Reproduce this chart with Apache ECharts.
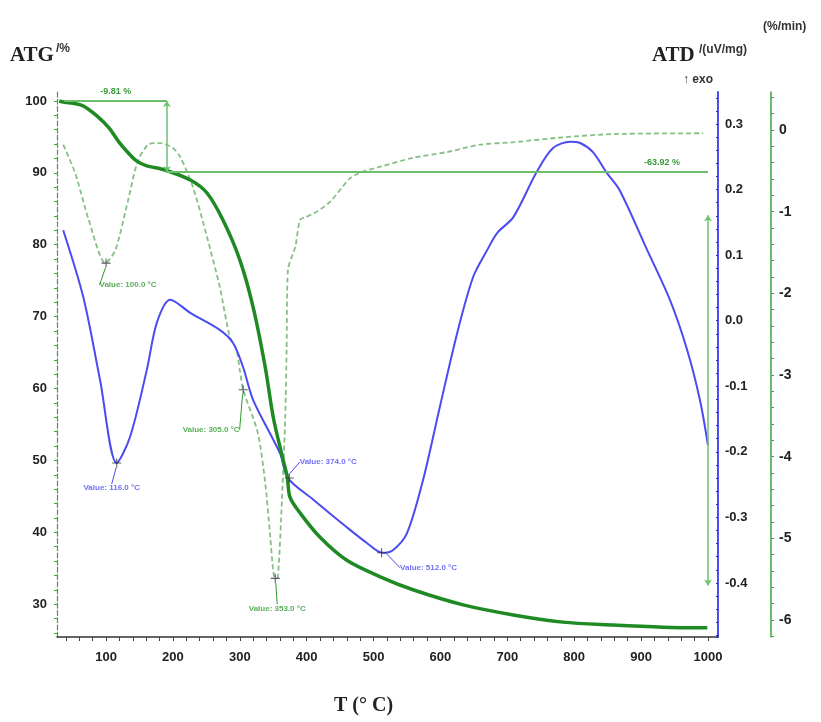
<!DOCTYPE html>
<html><head><meta charset="utf-8">
<script src="https://cdn.jsdelivr.net/npm/echarts@6/dist/echarts.min.js"></script>
<style>html,body{margin:0;padding:0;background:#fff}#c{width:821px;height:722px}</style>
</head><body><div id="c"></div>
<script>
// ---- data ----
const atgT = [30,34,64,88,105,120,133,145,160,188,226,251,275,300,320,338,350,365,371,375,390,420,460,510,559,634,709,783,858,933,999];
const atgV = [100,99.9,99.4,97.8,96.2,94.2,92.8,91.7,91.0,90.4,89.0,87.2,83.4,77.9,71.3,63.0,56.0,50.0,47.7,44.9,42.7,39.3,36.1,33.8,32.0,29.9,28.5,27.5,27.1,26.8,26.7];

const dtgT = [36,54,73,99,114,133,148,165,181,200,211,230,251,270,285,295,300,305,327,338,345,350,353,357,363,368,370,372,383,390,398,415,435,465,484,510,559,610,659,709,783,858,993];
const dtgV = [-0.18,-0.53,-1.07,-1.63,-1.47,-0.86,-0.37,-0.17,-0.16,-0.22,-0.33,-0.70,-1.31,-1.92,-2.53,-2.69,-2.94,-3.18,-3.71,-4.32,-4.93,-5.40,-5.49,-5.47,-4.53,-3.51,-2.69,-1.71,-1.43,-1.10,-1.07,-1.00,-0.88,-0.59,-0.51,-0.45,-0.34,-0.27,-0.18,-0.15,-0.09,-0.05,-0.04];

const atdT = [36,66,91,116,136,161,176,196,226,270,290,305,320,360,372,410,460,490,513,529,550,574,599,625,649,670,685,709,744,768,794,809,828,849,868,909,943,969,988,1000];
const atdV = [0.138,0.036,-0.090,-0.217,-0.177,-0.075,-0.003,0.032,0.012,-0.014,-0.034,-0.071,-0.121,-0.202,-0.240,-0.273,-0.315,-0.339,-0.354,-0.350,-0.324,-0.243,-0.132,-0.019,0.067,0.108,0.134,0.158,0.227,0.263,0.273,0.271,0.257,0.225,0.199,0.108,0.032,-0.045,-0.121,-0.190];

const dtgMarkT = [100,305,353];
const dtgMarkV = [-1.63,-3.18,-5.49];
const dtgMarkText = ['Value: 100.0 °C','Value: 305.0 °C','Value: 353.0 °C'];
const atdMarkT = [116,374,512];
const atdMarkV = [-0.217,-0.240,-0.354];
const atdMarkText = ['Value: 116.0 °C','Value: 374.0 °C','Value: 512.0 °C'];

// step annotations (ATG %)
const step1 = {t0:38, t1:191, top:100, bottom:90.1, text:'-9.81 %'};
const step2 = {t0:191, t1:1000, level:90.12, arrowTop:84.1, arrowBottom:32.6, text:'-63.92 %'};

const xLabels = [100,200,300,400,500,600,700,800,900,1000];
const atgLabels = [30,40,50,60,70,80,90,100];
const atdLabels = [0.3,0.2,0.1,0,-0.1,-0.2,-0.3,-0.4];
const dtgLabels = [0,-1,-2,-3,-4,-5,-6];

// ---- styling / layout ----
const dtgOffsets = [[22,22],[-32,40],[2,30]];
const atdOffsets = [[-5,25],[39,-16],[47,15]];
function range(a,b,s){const r=[];for(let v=a;v<=b+1e-9;v+=s)r.push(+v.toFixed(4));return r;}

const sans = "'Liberation Sans',Arial,sans-serif";
const serif = "'Liberation Serif','Times New Roman',serif";
const GREEN = '#1f8a24', LGREEN = '#6cc06c', DGREEN='#86c086', BLUE = '#4b4bf2';
const cross = 'path://M0,4.4h10v1.2h-10z M4.4,0h1.2v10h-1.2z';

const chart = echarts.init(document.getElementById('c'));
const zip = (a,b)=>a.map((v,i)=>[v,b[i]]);

chart.setOption({
  animation:false,
  backgroundColor:'#fff',
  grid:{left:57,right:103,top:92,bottom:85},
  xAxis:{type:'value',min:26.7,max:1015,
    axisLine:{onZero:false,lineStyle:{color:'#333',width:1.5}},
    axisTick:{customValues:range(40,1000,20),length:4,lineStyle:{color:'#444'}},
    axisLabel:{customValues:xLabels,formatter:v=>String(v),fontFamily:sans,fontWeight:'bold',fontSize:13,color:'#222',margin:14},
    splitLine:{show:false}},
  yAxis:[
    {type:'value',position:'left',min:25.43,max:101.25,
      axisLine:{show:true,onZero:false,lineStyle:{color:'#3aa53a',type:'dashed',width:1.2}},
      axisTick:{show:true,customValues:range(26,100,2),length:3,lineStyle:{color:'#3aa53a'}},
      axisLabel:{customValues:atgLabels,formatter:v=>String(v),fontFamily:sans,fontWeight:'bold',fontSize:13,color:'#222',margin:10},
      splitLine:{show:false}},
    {type:'value',position:'right',min:-0.4824,max:0.3488,
      axisLine:{show:true,onZero:false,lineStyle:{color:BLUE,width:2}},
      axisTick:{show:true,inside:true,customValues:range(-0.48,0.34,0.02),length:2,lineStyle:{color:'#2a2ad0'}},
      axisLabel:{customValues:atdLabels,formatter:v=>v.toFixed(1),fontFamily:sans,fontWeight:'bold',fontSize:13,color:'#222',margin:7},
      splitLine:{show:false}},
    {type:'value',position:'right',offset:53,min:-6.208,max:0.465,
      axisLine:{show:true,onZero:false,lineStyle:{color:'#3aa53a',width:1.5}},
      axisTick:{show:true,customValues:range(-6.2,0.4,0.2),length:3,lineStyle:{color:'#3aa53a'}},
      axisLabel:{customValues:dtgLabels,formatter:v=>String(v),fontFamily:sans,fontWeight:'bold',fontSize:14,color:'#222',margin:8},
      splitLine:{show:false}}
  ],
  series:[
    {name:'DTG',type:'line',yAxisIndex:2,data:zip(dtgT,dtgV),smooth:0.25,showSymbol:false,
      lineStyle:{color:DGREEN,width:1.8,type:[5,3]},z:2},
    {name:'ATG',type:'line',yAxisIndex:0,data:zip(atgT,atgV),smooth:0.3,showSymbol:false,
      lineStyle:{color:GREEN,width:3.5},z:4,
      markLine:{silent:true,symbol:['none','none'],animation:false,
        lineStyle:{color:LGREEN,width:2,type:'solid'},
        label:{color:'#3a9a3a',fontFamily:sans,fontWeight:'bold',fontSize:9},
        data:[
          [{coord:[step1.t0,step1.top],label:{show:true,position:'middle',formatter:step1.text,distance:5}},{coord:[step1.t1,step1.top]}],
          [{coord:[step1.t1,step1.top],symbol:'arrow',symbolSize:6,label:{show:false},lineStyle:{width:1.5}},{coord:[step1.t1,step1.bottom],symbol:'arrow',symbolSize:6}],
          [{coord:[step2.t0,step2.level],label:{show:true,position:'insideEndTop',formatter:step2.text,distance:[28,5]}},{coord:[step2.t1,step2.level]}],
          [{coord:[step2.t1,step2.arrowTop],symbol:'arrow',symbolSize:6,label:{show:false},lineStyle:{width:1.5}},{coord:[step2.t1,step2.arrowBottom],symbol:'arrow',symbolSize:6}]
        ]}},
    {name:'ATD',type:'line',yAxisIndex:1,data:zip(atdT,atdV),smooth:0.3,showSymbol:false,
      lineStyle:{color:BLUE,width:2},z:3},
    {name:'DTG marks',type:'scatter',yAxisIndex:2,data:zip(dtgMarkT,dtgMarkV),symbol:cross,symbolSize:9,
      itemStyle:{color:'#333'},z:6,
      label:{show:true,position:'inside',formatter:p=>dtgMarkText[p.dataIndex],color:'#2f9a2f',fontFamily:sans,fontWeight:'bold',fontSize:8},
      labelLine:{show:true,lineStyle:{color:'#2f9a2f',width:1}},
      labelLayout:p=>({dx:dtgOffsets[p.dataIndex][0],dy:dtgOffsets[p.dataIndex][1]})},
    {name:'ATD marks',type:'scatter',yAxisIndex:1,data:zip(atdMarkT,atdMarkV),symbol:cross,symbolSize:9,
      itemStyle:{color:'#333'},z:6,
      label:{show:true,position:'inside',formatter:p=>atdMarkText[p.dataIndex],color:BLUE,fontFamily:sans,fontWeight:'bold',fontSize:8},
      labelLine:{show:true,lineStyle:{color:BLUE,width:1}},
      labelLayout:p=>({dx:atdOffsets[p.dataIndex][0],dy:atdOffsets[p.dataIndex][1]})}
  ],
  graphic:[
    {type:'text',left:10,top:45,style:{text:'ATG',font:'bold 21px '+serif,fill:'#222'}},
    {type:'text',left:56,top:43,style:{text:'/%',font:'bold 12px '+sans,fill:'#333'}},
    {type:'text',left:652,top:45,style:{text:'ATD',font:'bold 21px '+serif,fill:'#222'}},
    {type:'text',left:699,top:44,style:{text:'/(uV/mg)',font:'bold 12px '+sans,fill:'#333'}},
    {type:'text',left:683,top:74,style:{text:'↑ exo',font:'bold 12px '+sans,fill:'#333'}},
    {type:'text',left:763,top:21,style:{text:'(%/min)',font:'bold 12px '+sans,fill:'#333'}},
    {type:'text',left:334,top:696,style:{text:'T (° C)',font:'bold 20px '+serif,fill:'#222'}}
  ]
});
</script></body></html>
